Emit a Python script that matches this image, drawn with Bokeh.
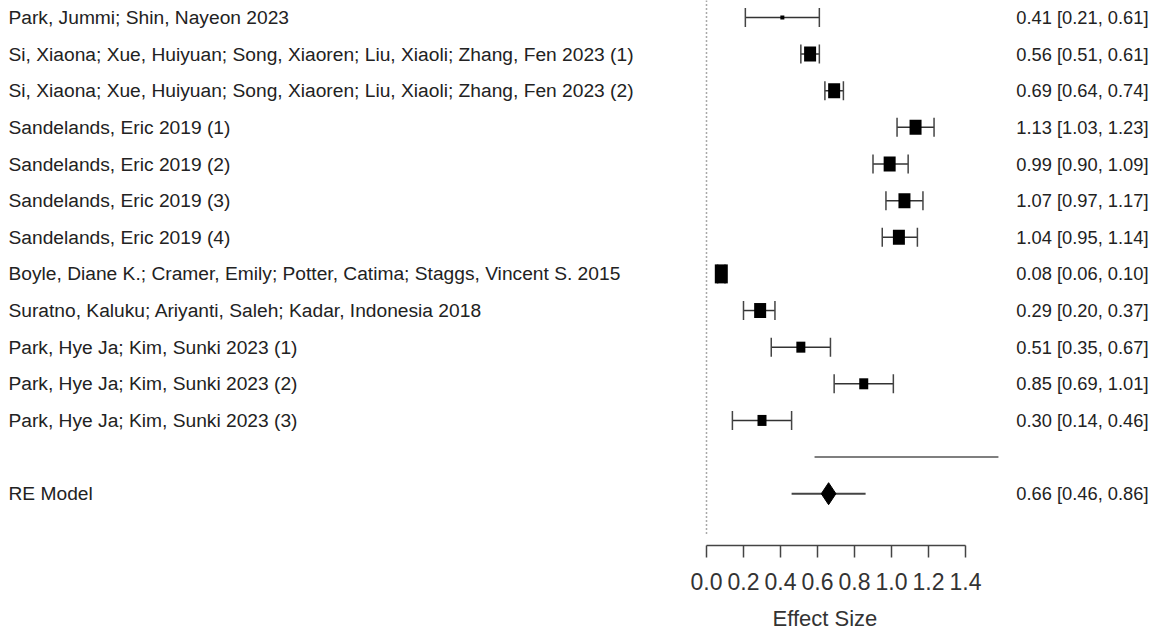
from bokeh.plotting import figure
from bokeh.models import Range1d, FixedTicker, LinearAxis, PrintfTickFormatter, Title
from bokeh.core.properties import value
from bokeh.embed import file_html
from bokeh.resources import INLINE

# ---------------- data ----------------
studies = [
    "Park, Jummi; Shin, Nayeon 2023",
    "Si, Xiaona; Xue, Huiyuan; Song, Xiaoren; Liu, Xiaoli; Zhang, Fen 2023 (1)",
    "Si, Xiaona; Xue, Huiyuan; Song, Xiaoren; Liu, Xiaoli; Zhang, Fen 2023 (2)",
    "Sandelands, Eric 2019 (1)",
    "Sandelands, Eric 2019 (2)",
    "Sandelands, Eric 2019 (3)",
    "Sandelands, Eric 2019 (4)",
    "Boyle, Diane K.; Cramer, Emily; Potter, Catima; Staggs, Vincent S. 2015",
    "Suratno, Kaluku; Ariyanti, Saleh; Kadar, Indonesia 2018",
    "Park, Hye Ja; Kim, Sunki 2023 (1)",
    "Park, Hye Ja; Kim, Sunki 2023 (2)",
    "Park, Hye Ja; Kim, Sunki 2023 (3)",
]
effect = [0.41, 0.56, 0.69, 1.13, 0.99, 1.07, 1.04, 0.08, 0.29, 0.51, 0.85, 0.30]
ci_low = [0.21, 0.51, 0.64, 1.03, 0.90, 0.97, 0.95, 0.06, 0.20, 0.35, 0.69, 0.14]
ci_high = [0.61, 0.61, 0.74, 1.23, 1.09, 1.17, 1.14, 0.10, 0.37, 0.67, 1.01, 0.46]

re_label = "RE Model"
re_effect = 0.66
re_low = 0.46
re_high = 0.86

x_ticks = [0.0, 0.2, 0.4, 0.6, 0.8, 1.0, 1.2, 1.4]
x_title = "Effect Size"

# ---------------- styles / layout ----------------
box_w = [4, 12, 12, 12, 12, 12, 12, 13, 12, 9, 9, 9]
box_h = [4, 15, 15, 15, 15, 15, 15, 19, 15, 11, 11, 11]

W, H = 1160, 642
FRAME_H = 546
BOTTOM = H - FRAME_H
PX_PER_UNIT = 259 / 1.4
X0_PX = 706          # pixel of x = 0
ROW_PX = 36.7
ROW1_PX = 17         # pixel of row 1

x_start = -X0_PX / PX_PER_UNIT
x_end = (W - X0_PX) / PX_PER_UNIT
k_top = 1 - ROW1_PX / ROW_PX
k_bot = 1 + (FRAME_H - ROW1_PX) / ROW_PX

n = len(studies)
rows = list(range(1, n + 1))
sep_row = n + 1
re_row = n + 2

FONT_NAME = "Liberation Sans"
FONT = value(FONT_NAME)
TXT = "#222222"
LINE = "#333333"

p = figure(width=W, height=H, x_range=Range1d(x_start, x_end),
           y_range=Range1d(k_bot, k_top), output_backend="svg",
           toolbar_location=None, x_axis_location=None, y_axis_location=None,
           min_border_left=0, min_border_right=0, min_border_top=0,
           min_border_bottom=BOTTOM)
p.outline_line_color = None
p.grid.visible = False
p.background_fill_color = "white"
p.border_fill_color = "white"

# dotted reference line at 0
p.segment(x0=[0], y0=[k_top], x1=[0], y1=[15.17], line_color="#555555",
          line_width=1.5, line_dash="1 3")

# separator line
p.segment(x0=[0.584], y0=[sep_row], x1=[1.578], y1=[sep_row],
          line_color="#555555", line_width=1.5)

# CI lines and caps
p.segment(x0=ci_low, y0=rows, x1=ci_high, y1=rows, line_color=LINE, line_width=1.5)
p.scatter(x=ci_low, y=rows, marker="dash", angle=1.5708, size=19,
          line_color="#444444", line_width=1.5)
p.scatter(x=ci_high, y=rows, marker="dash", angle=1.5708, size=19,
          line_color="#444444", line_width=1.5)

# boxes
p.rect(x=effect, y=rows, width=box_w, height=box_h, width_units="screen",
       height_units="screen", fill_color="black", line_color=None)

# RE model
p.segment(x0=[re_low], y0=[re_row], x1=[re_high], y1=[re_row],
          line_color="#444444", line_width=2)
p.scatter(x=[re_effect], y=[re_row], marker="diamond", size=22,
          fill_color="black", line_color="black")

# left labels
label_x = x_start + 8 / PX_PER_UNIT
p.text(x=[label_x] * (n + 1), y=rows + [re_row], text=studies + [re_label],
       text_align="left", text_baseline="middle", text_font=FONT,
       text_font_size="19.2px", text_color=TXT)

# right annotations
ann = [f"{e:.2f} [{l:.2f}, {h:.2f}]" for e, l, h in zip(effect, ci_low, ci_high)]
ann.append(f"{re_effect:.2f} [{re_low:.2f}, {re_high:.2f}]")
right_x = x_end - 12 / PX_PER_UNIT
p.text(x=[right_x] * (n + 1), y=rows + [re_row], text=ann,
       text_align="right", text_baseline="middle", text_font=FONT,
       text_font_size="18.3px", text_color=TXT)

# x axis
ax = LinearAxis(bounds=(x_ticks[0], x_ticks[-1]), ticker=FixedTicker(ticks=x_ticks),
                formatter=PrintfTickFormatter(format="%.1f"))
ax.axis_line_color = "#444444"
ax.axis_line_width = 1.5
ax.major_tick_line_color = "#444444"
ax.major_tick_line_width = 1.5
ax.major_tick_out = 12
ax.major_tick_in = 0
ax.minor_tick_line_color = None
ax.major_label_text_font = FONT_NAME
ax.major_label_text_font_size = "23px"
ax.major_label_text_color = "#333333"
ax.major_label_standoff = 15
p.add_layout(ax, "below")

# axis title, centred under the data as in the reference
p.add_layout(Title(text=x_title, align="left", offset=772, standoff=23,
                   text_font=FONT_NAME, text_font_size="22px",
                   text_font_style="normal", text_color="#333333"), "below")

open("out.html", "w").write(file_html(p, INLINE))
